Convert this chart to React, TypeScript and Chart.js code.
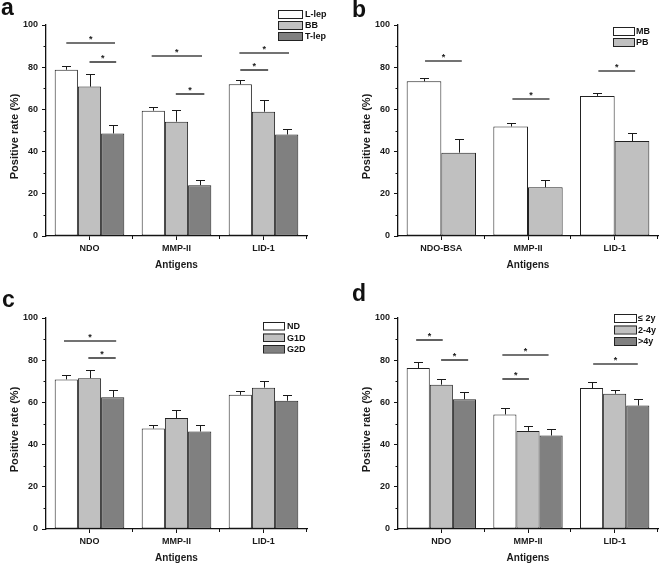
import React, { useEffect, useRef } from "react";
import { Chart, registerables } from "chart.js";
Chart.register(...registerables);

const FONT = "'Liberation Sans', Arial, Helvetica, sans-serif";
const WHITE = "#ffffff";
const LIGHT = "#c0c0c0";
const DARK = "#808080";

// ---------- Panel a ----------
const catsA = ["NDO", "MMP-II", "LID-1"];
const namesA = ["L-lep", "BB", "T-lep"];
const aLlep = [78.8, 59.4, 71.9];
const aLlepErr = [1.9, 1.8, 1.9];
const aBB = [70.8, 54.2, 58.9];
const aBBErr = [5.8, 5.5, 5.5];
const aTlep = [48.6, 24.1, 48.1];
const aTlepErr = [3.9, 2.3, 2.7];
// [category, from bar, to bar, y value]
const sigA = [
  [0, 0, 2.1, 91.6],
  [0, 1, 2.15, 82.5],
  [1, -0.07, 2.1, 85.2],
  [1, 0.97, 2.2, 67.3],
  [2, -0.04, 2.1, 86.9],
  [2, 0, 1.2, 78.7],
];

// ---------- Panel b ----------
const catsB = ["NDO-BSA", "MMP-II", "LID-1"];
const namesB = ["MB", "PB"];
const bMB = [73.3, 51.9, 66.4];
const bMBErr = [1.8, 1.7, 1.6];
const bPB = [39.5, 23.1, 45.0];
const bPBErr = [6.6, 3.6, 4.0];
const sigB = [
  [0, 0.03, 1.09, 83.1],
  [1, 0.05, 1.12, 65.1],
  [2, 0.03, 1.09, 78.0],
];

// ---------- Panel c ----------
const catsC = ["NDO", "MMP-II", "LID-1"];
const namesC = ["ND", "G1D", "G2D"];
const cND = [70.9, 47.6, 63.6];
const cNDErr = [2.3, 1.9, 2.0];
const cG1D = [71.5, 52.6, 67.0];
const cG1DErr = [4.0, 3.6, 3.2];
const cG2D = [62.5, 46.2, 60.8];
const cG2DErr = [3.5, 3.0, 2.6];
const sigC = [
  [0, -0.1, 2.15, 89.1],
  [0, 0.95, 2.13, 81.2],
];

// ---------- Panel d ----------
const catsD = ["NDO", "MMP-II", "LID-1"];
const namesD = ["\u2264 2y", "2-4y", ">4y"];
const d2y = [76.3, 54.3, 66.8];
const d2yErr = [3.0, 3.0, 2.8];
const d24y = [68.4, 46.5, 64.1];
const d24yErr = [2.5, 2.2, 1.9];
const d4y = [61.5, 44.3, 58.5];
const d4yErr = [3.6, 2.9, 3.0];
const sigD = [
  [0, -0.09, 1.06, 89.4],
  [0, 0.99, 2.16, 80.2],
  [1, -0.11, 1.89, 82.6],
  [1, -0.11, 1.04, 71.2],
  [2, 0.07, 2.0, 78.0],
];

const yTicksMajor = [0, 20, 40, 60, 80, 100];
const yTicksMinor = [10, 30, 50, 70, 90];
const yTitle = "Positive rate (%)";
const xTitle = "Antigens";

type PanelDef = {
  letter: string;
  letterX: number;
  letterY: number;
  cats: string[];
  names: string[];
  values: number[][];
  errs: number[][];
  colors: string[];
  sig: number[][];
  legend: { x: number; ys: number[]; w: number; h: number; textX: number };
  left: number;
  top: number;
  width: number;
  height: number;
  padding: { left: number; right: number; top: number; bottom: number };
};

const panels: PanelDef[] = [
  {
    letter: "a", letterX: 1, letterY: 15,
    cats: catsA, names: namesA,
    values: [aLlep, aBB, aTlep], errs: [aLlepErr, aBBErr, aTlepErr],
    colors: [WHITE, LIGHT, DARK], sig: sigA,
    legend: { x: 278, ys: [10, 21, 32], w: 24, h: 8, textX: 305 },
    left: 0, top: 0, width: 330, height: 280,
    padding: { left: 0, right: 23, top: 25, bottom: 8 },
  },
  {
    letter: "b", letterX: 22, letterY: 17,
    cats: catsB, names: namesB,
    values: [bMB, bPB], errs: [bMBErr, bPBErr],
    colors: [WHITE, LIGHT], sig: sigB,
    legend: { x: 283, ys: [27, 38], w: 21, h: 8, textX: 306 },
    left: 330, top: 0, width: 330, height: 280,
    padding: { left: 22, right: 2, top: 25, bottom: 8 },
  },
  {
    letter: "c", letterX: 2, letterY: 27,
    cats: catsC, names: namesC,
    values: [cND, cG1D, cG2D], errs: [cNDErr, cG1DErr, cG2DErr],
    colors: [WHITE, LIGHT, DARK], sig: sigC,
    legend: { x: 263, ys: [42, 53.5, 65], w: 21, h: 7.5, textX: 287 },
    left: 0, top: 280, width: 330, height: 285,
    padding: { left: 0, right: 23, top: 38, bottom: 0 },
  },
  {
    letter: "d", letterX: 22, letterY: 21,
    cats: catsD, names: namesD,
    values: [d2y, d24y, d4y], errs: [d2yErr, d24yErr, d4yErr],
    colors: [WHITE, LIGHT, DARK], sig: sigD,
    legend: { x: 284, ys: [34, 45.5, 57], w: 22, h: 8, textX: 308 },
    left: 330, top: 280, width: 330, height: 285,
    padding: { left: 22, right: 2, top: 38, bottom: 0 },
  },
];

function Panel({ def }: { def: PanelDef }) {
  const ref = useRef<HTMLCanvasElement | null>(null);
  useEffect(() => {
    if (!ref.current) return;
    const decor = {
      id: "decor",
      afterDatasetsDraw(chart: any) {
        const ctx = chart.ctx as CanvasRenderingContext2D;
        const xs = chart.scales.x;
        const ys = chart.scales.y;
        const area = chart.chartArea;
        ctx.save();
        // error bars
        ctx.strokeStyle = "#1a1a1a";
        ctx.lineWidth = 1;
        def.values.forEach((vals, k) => {
          const meta = chart.getDatasetMeta(k);
          vals.forEach((v, i) => {
            const el = meta.data[i];
            const x = Math.round(el.x) + 0.5;
            const y0 = ys.getPixelForValue(v);
            const y1 = Math.round(ys.getPixelForValue(v + def.errs[k][i])) + 0.5;
            ctx.beginPath();
            ctx.moveTo(x, y0);
            ctx.lineTo(x, y1);
            ctx.moveTo(x - 4.5, y1);
            ctx.lineTo(x + 4.5, y1);
            ctx.stroke();
          });
        });
        // significance lines and stars
        const meta0 = chart.getDatasetMeta(0);
        ctx.strokeStyle = "#454545";
        ctx.lineWidth = 1.7;
        ctx.fillStyle = "#1a1a1a";
        ctx.font = `bold 9px ${FONT}`;
        ctx.textAlign = "center";
        ctx.textBaseline = "alphabetic";
        def.sig.forEach(([cat, from, to, yv]) => {
          const el = meta0.data[cat];
          const bw = el.width;
          const x1 = el.x + from * bw;
          const x2 = el.x + to * bw;
          const y = Math.round(ys.getPixelForValue(yv));
          ctx.beginPath();
          ctx.moveTo(x1, y);
          ctx.lineTo(x2, y);
          ctx.stroke();
          ctx.fillText("*", (x1 + x2) / 2, y - 1.5);
        });
        // minor ticks
        ctx.strokeStyle = "#111";
        ctx.lineWidth = 1;
        yTicksMinor.forEach((v) => {
          const y = Math.round(ys.getPixelForValue(v)) + 0.5;
          ctx.beginPath();
          ctx.moveTo(area.left, y);
          ctx.lineTo(area.left - 2.5, y);
          ctx.stroke();
        });
        const n = def.cats.length;
        const cw = (xs.right - xs.left) / n;
        for (let j = 1; j <= n; j++) {
          const x = Math.round(xs.left + j * cw) - 0.5;
          ctx.beginPath();
          ctx.moveTo(x, area.bottom);
          ctx.lineTo(x, area.bottom + 3);
          ctx.stroke();
        }
        // y-axis title (slightly below the axis centre, as in the original)
        ctx.save();
        ctx.font = `bold 11px ${FONT}`;
        ctx.fillStyle = "#1a1a1a";
        ctx.textAlign = "center";
        ctx.textBaseline = "middle";
        ctx.translate(area.left - 31, (area.top + area.bottom) / 2 + 6);
        ctx.rotate(-Math.PI / 2);
        ctx.fillText(yTitle, 0, 0);
        ctx.restore();
        // legend
        const lg = def.legend;
        ctx.font = `bold 9px ${FONT}`;
        ctx.textAlign = "left";
        ctx.textBaseline = "middle";
        def.names.forEach((name, k) => {
          const y = lg.ys[k];
          ctx.fillStyle = def.colors[k];
          ctx.fillRect(lg.x, y, lg.w, lg.h);
          ctx.strokeStyle = "#222";
          ctx.lineWidth = 1;
          ctx.strokeRect(lg.x + 0.5, y + 0.5, lg.w, lg.h);
          ctx.fillStyle = "#111";
          ctx.fillText(name, lg.textX, y + lg.h / 2 + 1);
        });
        // panel letter
        ctx.font = `bold 23px ${FONT}`;
        ctx.fillStyle = "#111";
        ctx.textBaseline = "alphabetic";
        ctx.fillText(def.letter, def.letterX, def.letterY);
        ctx.restore();
      },
    };

    const chart = new Chart(ref.current, {
      type: "bar",
      data: {
        labels: def.cats,
        datasets: def.values.map((vals, k) => ({
          label: def.names[k],
          data: vals,
          backgroundColor: def.colors[k],
          borderColor: "#222",
          borderWidth: 1,
          borderSkipped: false,
          categoryPercentage: 0.8,
          barPercentage: 1.0,
        })),
      },
      options: {
        responsive: false,
        animation: false,
        devicePixelRatio: 1,
        layout: { padding: def.padding },
        plugins: {
          legend: { display: false },
          tooltip: { enabled: false },
        },
        scales: {
          x: {
            offset: true,
            grid: {
              display: true,
              drawOnChartArea: false,
              offset: false,
              tickLength: 4,
              color: "#111",
              lineWidth: 1,
            },
            border: { display: true, color: "#111", width: 1.3 },
            ticks: {
              font: { size: 9, weight: "bold", family: FONT },
              color: "#1a1a1a",
              padding: 3,
              maxRotation: 0,
            },
            title: {
              display: true,
              text: xTitle,
              font: { size: 10, weight: "bold", family: FONT },
              color: "#1a1a1a",
              padding: { top: 0, bottom: 1 },
            },
            afterFit(scale: any) {
              scale.height = 36;
            },
          },
          y: {
            min: 0,
            max: 100,
            grid: {
              display: true,
              drawOnChartArea: false,
              tickLength: 4,
              color: "#111",
              lineWidth: 1,
            },
            border: { display: true, color: "#111", width: 1.3 },
            ticks: {
              stepSize: 20,
              font: { size: 9, weight: "bold", family: FONT },
              color: "#1a1a1a",
              padding: 4,
              callback: (v: any) => (yTicksMajor.includes(Number(v)) ? String(v) : ""),
            },
            title: { display: false },
            afterFit(scale: any) {
              scale.width = 46;
            },
          },
        },
      },
      plugins: [decor],
    } as any);
    return () => chart.destroy();
  }, [def]);

  return (
    <canvas
      ref={ref}
      width={def.width}
      height={def.height}
      style={{
        position: "absolute",
        left: def.left,
        top: def.top,
        width: def.width,
        height: def.height,
      }}
    />
  );
}

export default function App() {
  return (
    <div
      style={{
        position: "absolute",
        left: 0,
        top: 0,
        width: 660,
        height: 565,
        background: "#ffffff",
        overflow: "hidden",
      }}
    >
      {panels.map((p) => (
        <Panel key={p.letter} def={p} />
      ))}
    </div>
  );
}
